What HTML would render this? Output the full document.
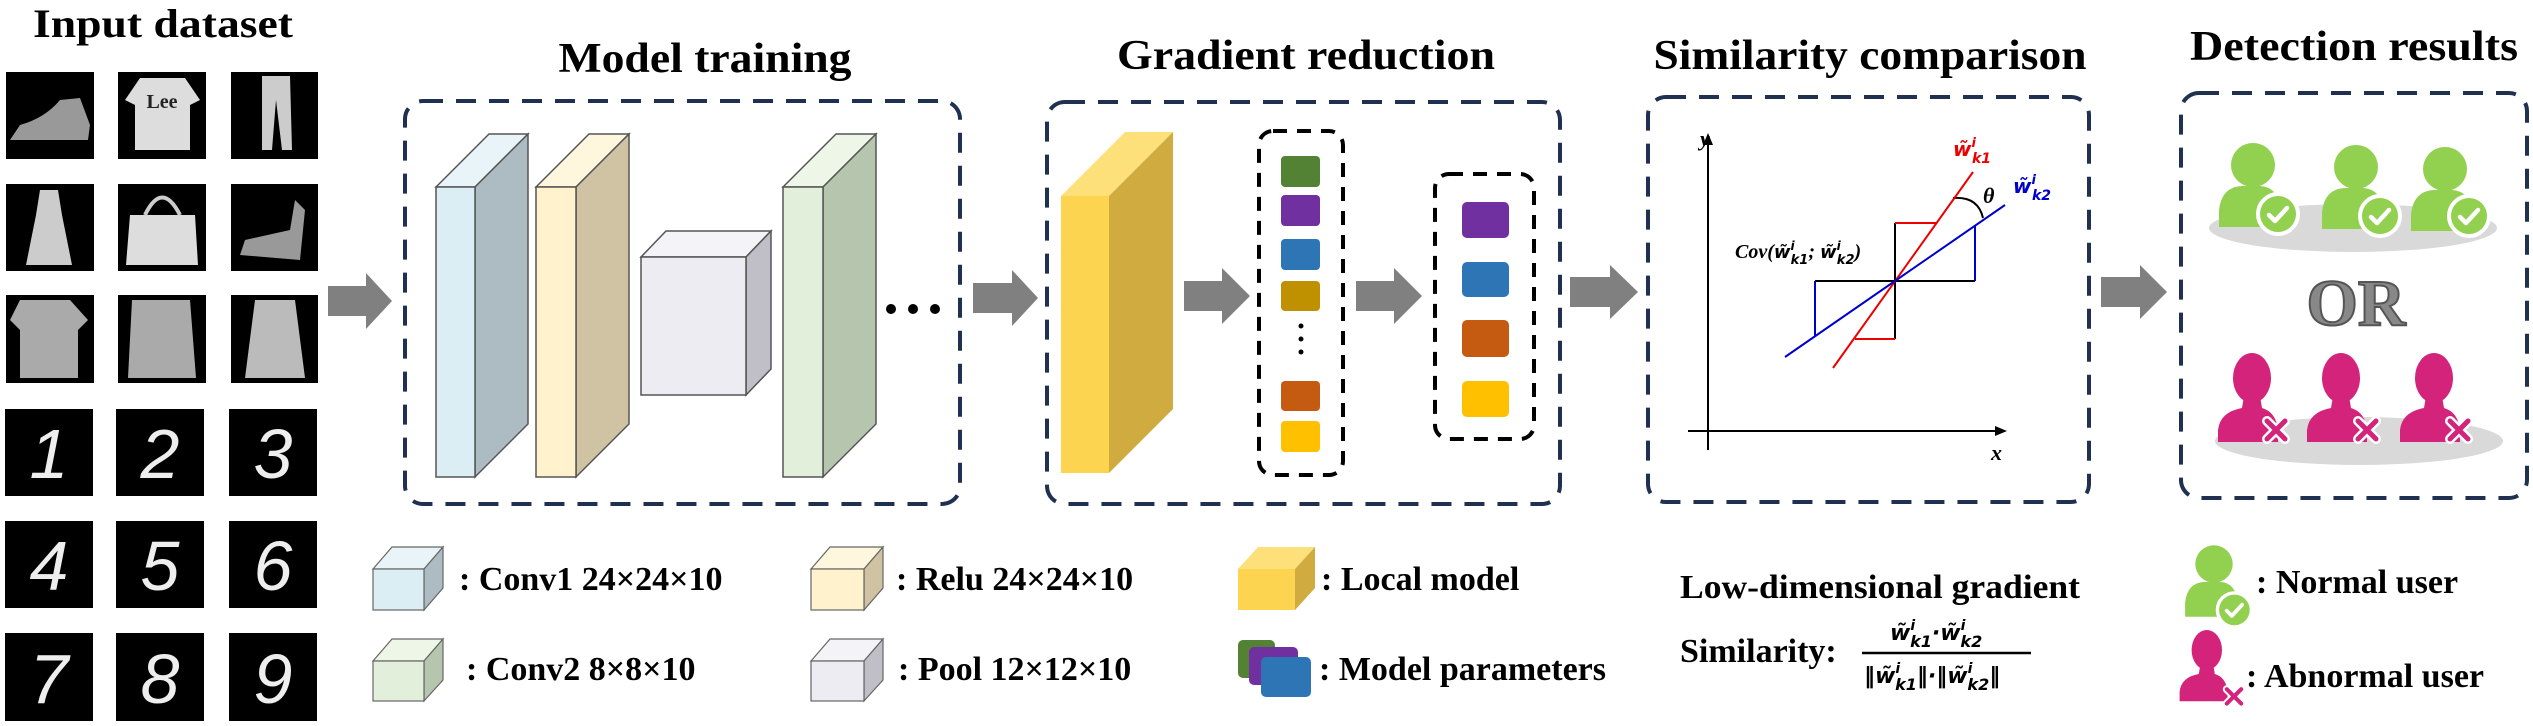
<!DOCTYPE html>
<html><head><meta charset="utf-8"><style>
html,body{margin:0;padding:0;background:#fff;}
svg{display:block}
text{font-family:"Liberation Serif",serif;font-weight:bold;fill:#000}
.m{font-family:"DejaVu Sans","Liberation Sans",sans-serif;font-style:italic;font-weight:bold}
.dg{font-family:"Liberation Sans",sans-serif;font-style:italic;font-weight:normal;fill:#eee}
</style></head><body>
<svg width="2533" height="726" viewBox="0 0 2533 726" xmlns="http://www.w3.org/2000/svg">
<defs>
<g id="ok"><circle r="20" fill="#92d050" stroke="#fff" stroke-width="4"/><path d="M-9,1 L-3,7 L9,-6" stroke="#fff" stroke-width="4.5" fill="none" stroke-linecap="round" stroke-linejoin="round"/></g>
<g id="gu"><circle cx="0" cy="0" r="22" fill="#92d050"/><path d="M-34,62 L-34,46 Q-32,22 -11,21 L7,21 Q26,22 28,46 L28,62 Z" fill="#92d050"/></g>
<g id="pu"><ellipse cx="-4" cy="0" rx="19" ry="25" fill="#d4237a"/><path d="M-38,64 L-38,52 Q-36,34 -14,30 L-12,18 L4,18 L6,30 Q20,34 22,52 L22,64 Z" fill="#d4237a"/></g>
<g id="xx"><path d="M-9,-9 L9,9 M9,-9 L-9,9" stroke="#fff" stroke-width="10" stroke-linecap="round"/><path d="M-9,-9 L9,9 M9,-9 L-9,9" stroke="#d4237a" stroke-width="5" stroke-linecap="round"/></g>
</defs>

<!-- titles -->
<text x="163" y="37" font-size="40" text-anchor="middle" textLength="260" lengthAdjust="spacingAndGlyphs">Input dataset</text>
<text x="705" y="72" font-size="42" text-anchor="middle" textLength="293" lengthAdjust="spacingAndGlyphs">Model training</text>
<text x="1306" y="69" font-size="42" text-anchor="middle" textLength="378" lengthAdjust="spacingAndGlyphs">Gradient reduction</text>
<text x="1870" y="69" font-size="42" text-anchor="middle" textLength="433" lengthAdjust="spacingAndGlyphs">Similarity comparison</text>
<text x="2354" y="60" font-size="42" text-anchor="middle" textLength="328" lengthAdjust="spacingAndGlyphs">Detection results</text>

<!-- dataset tiles -->
<g fill="#000">
<rect x="6" y="72" width="88" height="87"/><rect x="118" y="72" width="88" height="87"/><rect x="231" y="72" width="87" height="87"/>
<rect x="6" y="184" width="88" height="87"/><rect x="118" y="184" width="88" height="87"/><rect x="231" y="184" width="87" height="87"/>
<rect x="6" y="295" width="88" height="88"/><rect x="118" y="295" width="88" height="88"/><rect x="231" y="295" width="87" height="88"/>
<rect x="5" y="409" width="88" height="87"/><rect x="116" y="409" width="88" height="87"/><rect x="229" y="409" width="88" height="87"/>
<rect x="5" y="521" width="88" height="87"/><rect x="116" y="521" width="88" height="87"/><rect x="229" y="521" width="88" height="87"/>
<rect x="5" y="633" width="88" height="88"/><rect x="116" y="633" width="88" height="88"/><rect x="229" y="633" width="88" height="88"/>
</g>
<path d="M10,140 L20,125 Q45,118 60,100 L80,98 L90,125 L88,140 Z" fill="#999"/>
<path d="M140,78 L185,78 L200,100 L190,105 L190,150 L135,150 L135,105 L125,100 Z" fill="#ddd"/>
<text x="162" y="108" font-size="20" text-anchor="middle" style="fill:#222">Lee</text>
<path d="M262,76 L290,76 L292,150 L282,150 L276,100 L272,150 L262,150 Z" fill="#ccc"/>
<path d="M40,190 L58,190 L62,215 L72,265 L26,265 L36,215 Z" fill="#ccc"/>
<path d="M130,215 L195,215 L198,265 L126,265 Z" fill="#ddd"/><path d="M145,215 Q162,180 180,215" stroke="#ccc" stroke-width="4" fill="none"/>
<path d="M240,255 L245,240 L290,230 L295,200 L305,210 L300,260 Z" fill="#999"/>
<path d="M20,300 L70,300 L88,320 L78,330 L78,378 L20,378 L20,330 L10,320 Z" fill="#aaa"/>
<path d="M132,300 L190,300 L196,378 L128,378 Z" fill="#aaa"/>
<path d="M255,300 L295,300 L305,378 L245,378 Z" fill="#bbb"/>
<g font-size="70" text-anchor="middle">
<text class="dg" x="49" y="478">1</text><text class="dg" x="160" y="478">2</text><text class="dg" x="273" y="478">3</text>
<text class="dg" x="49" y="590">4</text><text class="dg" x="160" y="590">5</text><text class="dg" x="273" y="590">6</text>
<text class="dg" x="49" y="703">7</text><text class="dg" x="160" y="703">8</text><text class="dg" x="273" y="703">9</text>
</g>

<!-- dashed boxes -->
<g fill="none" stroke="#1f3050" stroke-width="4" stroke-dasharray="20 13">
<rect x="405" y="101" width="555" height="403" rx="18"/>
<rect x="1047" y="102" width="513" height="402" rx="18"/>
<rect x="1648" y="97" width="441" height="405" rx="18"/>
<rect x="2181" y="93" width="346" height="405" rx="18"/>
</g>
<g fill="none" stroke="#000" stroke-width="4" stroke-dasharray="14 10">
<rect x="1259" y="131" width="84" height="344" rx="14"/>
<rect x="1435" y="174" width="99" height="265" rx="14"/>
</g>

<!-- arrows -->
<g fill="#808080">
<polygon points="328,286 366,286 366,273 392,301 366,329 366,316 328,316"/>
<polygon points="973,283 1012,283 1012,270 1038,298 1012,326 1012,313 973,313"/>
<polygon points="1184,281 1222,281 1222,268 1250,296 1222,324 1222,311 1184,311"/>
<polygon points="1356,281 1394,281 1394,268 1422,296 1394,324 1394,311 1356,311"/>
<polygon points="1570,277 1610,277 1610,265 1638,292 1610,319 1610,307 1570,307"/>
<polygon points="2101,277 2140,277 2140,265 2167,292 2140,319 2140,307 2101,307"/>
</g>

<!-- CNN blocks -->
<g stroke="#555" stroke-width="1.5">
<polygon points="436,187 489,134 528,134 475,187" fill="#e8f4f8"/><polygon points="475,187 528,134 528,424 475,477" fill="#adbcc3"/><rect x="436" y="187" width="39" height="290" fill="#dbeef4"/>
<polygon points="536,187 589,134 629,134 576,187" fill="#fff7dd"/><polygon points="576,187 629,134 629,424 576,477" fill="#cfc3a3"/><rect x="536" y="187" width="40" height="290" fill="#fff2cc"/>
<polygon points="641,257 666,231 771,231 746,257" fill="#f4f4f8"/><polygon points="746,257 771,231 771,369 746,395" fill="#c0bfc8"/><rect x="641" y="257" width="105" height="138" fill="#ececf2"/>
<polygon points="783,187 836,134 876,134 823,187" fill="#eef6e8"/><polygon points="823,187 876,134 876,424 823,477" fill="#b6c5ad"/><rect x="783" y="187" width="40" height="290" fill="#e2efda"/>
</g>
<circle cx="891" cy="309" r="5"/><circle cx="913" cy="309" r="5"/><circle cx="935" cy="309" r="5"/>

<!-- yellow block -->
<polygon points="1061,196 1125,132 1173,132 1109,196" fill="#fde07a"/>
<polygon points="1109,196 1173,132 1173,409 1109,473" fill="#cfab40"/>
<rect x="1061" y="196" width="48" height="277" fill="#fdd44f"/>

<!-- param squares -->
<rect x="1281" y="156" width="39" height="31" rx="4" fill="#548235"/>
<rect x="1281" y="195" width="39" height="31" rx="4" fill="#7030a0"/>
<rect x="1281" y="239" width="39" height="31" rx="4" fill="#2e75b6"/>
<rect x="1281" y="281" width="39" height="30" rx="4" fill="#bf9000"/>
<circle cx="1301" cy="326" r="2.5"/><circle cx="1301" cy="339" r="2.5"/><circle cx="1301" cy="352" r="2.5"/>
<rect x="1281" y="381" width="39" height="30" rx="4" fill="#c55a11"/>
<rect x="1281" y="421" width="39" height="31" rx="4" fill="#ffc000"/>
<rect x="1462" y="202" width="47" height="36" rx="5" fill="#7030a0"/>
<rect x="1462" y="262" width="47" height="35" rx="5" fill="#2e75b6"/>
<rect x="1462" y="320" width="47" height="37" rx="5" fill="#c55a11"/>
<rect x="1462" y="381" width="47" height="36" rx="5" fill="#ffc000"/>

<!-- similarity plot -->
<g stroke="#000" stroke-width="2" fill="none">
<line x1="1708" y1="450" x2="1708" y2="140"/>
<line x1="1688" y1="431" x2="2000" y2="431"/>
<path d="M1895,223 L1895,339 M1815,281 L1975,281"/>
<path d="M1953,198 Q1978,196 1983,218"/>
</g>
<polygon points="1708,133 1703,145 1713,145"/>
<polygon points="2007,431 1995,426 1995,436"/>
<g fill="none" stroke-width="2">
<path d="M1895,223 L1936,223 M1855,339 L1895,339" stroke="#e00"/>
<path d="M1975,225 L1975,281 M1815,281 L1815,336" stroke="#00c"/>
<line x1="1833" y1="368" x2="1973" y2="172" stroke="#e00"/>
<line x1="1785" y1="357" x2="2005" y2="205" stroke="#00c"/>
</g>
<text x="1700" y="146" font-size="22" font-style="italic">y</text>
<text x="1991" y="460" font-size="22" font-style="italic">x</text>
<text x="1983" y="203" font-size="22" font-style="italic">θ</text>
<text class="m" x="1953" y="156" font-size="20" style="fill:#e00">w̃<tspan font-size="13" dy="-9">i</tspan><tspan font-size="14" dx="-4" dy="16">k1</tspan></text>
<text class="m" x="2013" y="193" font-size="20" style="fill:#00c">w̃<tspan font-size="13" dy="-9">i</tspan><tspan font-size="14" dx="-4" dy="16">k2</tspan></text>
<text x="1735" y="258" font-size="20" font-style="italic">Cov(<tspan class="m" font-size="18">w̃</tspan><tspan class="m" font-size="12" dy="-8">i</tspan><tspan class="m" font-size="13" dx="-4" dy="14">k1</tspan><tspan dy="-6">; </tspan><tspan class="m" font-size="18">w̃</tspan><tspan class="m" font-size="12" dy="-8">i</tspan><tspan class="m" font-size="13" dx="-4" dy="14">k2</tspan><tspan dy="-6">)</tspan></text>

<!-- detection results -->
<ellipse cx="2353" cy="228" rx="144" ry="24" fill="#d9d9d9"/>
<use href="#gu" x="2253" y="165"/><use href="#gu" x="2356" y="167"/><use href="#gu" x="2445" y="169"/>
<use href="#ok" x="2278" y="214"/><use href="#ok" x="2380" y="216"/><use href="#ok" x="2469" y="216"/>
<text x="2356" y="325" font-size="66" text-anchor="middle" style="fill:#888;stroke:#555;stroke-width:2">OR</text>
<ellipse cx="2359" cy="441" rx="144" ry="24" fill="#d9d9d9"/>
<use href="#pu" x="2256" y="378"/><use href="#pu" x="2345" y="378"/><use href="#pu" x="2438" y="378"/>
<use href="#xx" x="2276" y="430"/><use href="#xx" x="2367" y="430"/><use href="#xx" x="2459" y="430"/>

<!-- legends -->
<g stroke="#666" stroke-width="1.2">
<polygon points="373,569 392,547 443,547 424,569" fill="#e8f4f8"/><polygon points="424,569 443,547 443,588 424,610" fill="#adbcc3"/><rect x="373" y="569" width="51" height="41" fill="#dbeef4"/>
<polygon points="373,661 392,639 443,639 424,661" fill="#eef6e8"/><polygon points="424,661 443,639 443,680 424,701" fill="#b6c5ad"/><rect x="373" y="661" width="51" height="40" fill="#e2efda"/>
<polygon points="811,569 830,547 883,547 864,569" fill="#fff7dd"/><polygon points="864,569 883,547 883,588 864,610" fill="#cfc3a3"/><rect x="811" y="569" width="53" height="41" fill="#fff2cc"/>
<polygon points="811,661 830,639 883,639 864,661" fill="#f4f4f8"/><polygon points="864,661 883,639 883,680 864,701" fill="#c0bfc8"/><rect x="811" y="661" width="53" height="40" fill="#ececf2"/>
</g>
<polygon points="1238,569 1258,547 1315,547 1295,569" fill="#fde07a"/><polygon points="1295,569 1315,547 1315,588 1295,610" fill="#cfab40"/><rect x="1238" y="569" width="57" height="41" fill="#fdd44f"/>
<rect x="1238" y="640" width="37" height="38" rx="5" fill="#548235"/>
<rect x="1249" y="647" width="49" height="38" rx="5" fill="#7030a0"/>
<rect x="1261" y="657" width="50" height="40" rx="5" fill="#2e75b6"/>

<g font-size="34">
<text x="459" y="590">: Conv1 24×24×10</text>
<text x="466" y="680">: Conv2 8×8×10</text>
<text x="896" y="590">: Relu 24×24×10</text>
<text x="898" y="680">: Pool 12×12×10</text>
<text x="1321" y="590">: Local model</text>
<text x="1319" y="680">: Model parameters</text>
<text x="1680" y="598" textLength="400" lengthAdjust="spacingAndGlyphs">Low-dimensional gradient</text>
<text x="1680" y="662">Similarity:</text>
<text x="2256" y="593">: Normal user</text>
<text x="2246" y="687">: Abnormal user</text>
</g>
<line x1="1862" y1="653" x2="2031" y2="653" stroke="#000" stroke-width="2.5"/>
<text class="m" x="1890" y="640" font-size="22">w̃<tspan font-size="14" dy="-10">i</tspan><tspan font-size="16" dx="-5" dy="17">k1</tspan><tspan dy="-7">·</tspan>w̃<tspan font-size="14" dy="-10">i</tspan><tspan font-size="16" dx="-5" dy="17">k2</tspan></text>
<text class="m" x="1864" y="683" font-size="22">‖w̃<tspan font-size="14" dy="-10">i</tspan><tspan font-size="16" dx="-5" dy="17">k1</tspan><tspan dy="-7">‖·‖w̃</tspan><tspan font-size="14" dy="-10">i</tspan><tspan font-size="16" dx="-5" dy="17">k2</tspan><tspan dy="-7">‖</tspan></text>

<g transform="translate(2214,564) scale(0.85)"><use href="#gu" x="0" y="0"/><use href="#ok" x="24" y="54"/></g>
<g transform="translate(2210,650) scale(0.8)"><use href="#pu" x="0" y="0"/><use href="#xx" x="30" y="58"/></g>
</svg>
</body></html>
